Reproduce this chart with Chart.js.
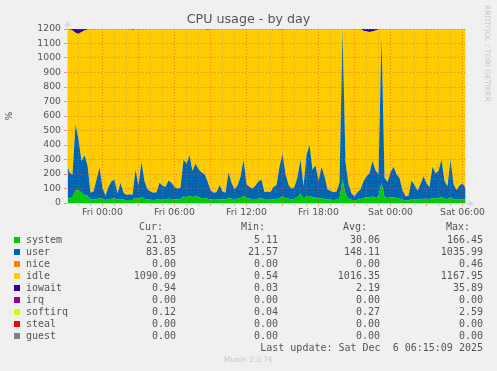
<!DOCTYPE html>
<html>
<head>
<meta charset="utf-8">
<script src="https://cdn.jsdelivr.net/npm/chart.js@4"></script>
<style>
  body { margin: 0; background: #F0F0F0; }
  #wrap { position: relative; width: 497px; height: 371px; overflow: hidden; }
  #chart { position: absolute; left: 0; top: 0; }
  .t { position: absolute; white-space: pre; color: #555; }
  .mono { font-family: "DejaVu Sans Mono", monospace; font-size: 10px; line-height: 12px; }
  .sq { position: absolute; width: 6px; height: 6px; }
</style>
</head>
<body>
<div id="wrap">
  <canvas id="chart" width="497" height="371"></canvas>
</div>
<script>
"use strict"

// Time axis: hours relative to Fri 00:00, one sample every 15 minutes
const startHour = -3;
const stepHours = 0.25;

const system = [35,30,40,85,90,70,55,50,25,22,
  28,35,28,20,28,30,32,22,28,22,
  20,20,20,35,30,40,30,25,22,20,
  22,28,28,26,30,28,26,25,30,45,
  40,50,40,50,40,35,35,30,25,22,
  22,28,25,25,35,30,28,30,35,50,
  35,30,28,28,30,32,22,22,22,25,
  28,35,45,35,30,26,28,40,65,30,
  45,50,40,40,30,35,30,25,22,20,
  22,30,160,60,30,22,18,22,28,35,
  40,40,45,40,45,140,40,35,40,40,
  35,30,25,18,18,28,26,22,26,30,
  30,26,35,30,35,40,30,26,40,26,
  22,26,28,21];

const user = [245,180,155,455,350,220,275,210,45,58,
  132,210,77,30,82,120,128,43,112,48,
  35,40,35,195,90,245,120,70,58,50,
  53,112,92,84,125,112,84,75,75,255,
  230,280,180,220,195,175,165,120,65,48,
  53,97,55,45,175,110,67,90,145,250,
  95,80,72,92,120,128,53,58,53,85,
  97,215,295,165,95,74,82,140,235,85,
  285,350,190,220,120,215,155,70,63,55,
  58,110,1030,220,100,43,27,53,67,115,
  145,165,245,185,155,1010,135,110,170,210,
  165,140,65,27,32,127,99,63,104,155,
  105,84,215,175,185,260,120,89,260,104,
  68,94,107,84];

const idle = [918,987,995,635,725,890,860,937,1128,1118,
  1038,953,1093,1148,1088,1048,1038,1133,1058,1128,
  1143,1138,1140,968,1078,913,1048,1103,1118,1128,
  1123,1058,1078,1088,1043,1058,1088,1098,1093,898,
  928,868,978,928,963,988,998,1044,1108,1128,
  1123,1073,1118,1128,988,1058,1103,1078,1018,898,
  1068,1088,1098,1078,1048,1038,1123,1118,1123,1088,
  1073,946,857,998,1073,1098,1088,1018,898,1083,
  868,798,968,938,1048,948,1013,1103,1113,1123,
  1118,1058,9,918,1068,1133,1153,1123,1103,1038,
  997,975,892,965,997,48,1023,1053,988,948,
  998,1028,1108,1153,1148,1043,1073,1113,1068,1013,
  1063,1088,948,993,978,898,1048,1083,898,1068,
  1108,1078,1063,1094];

const iowait = [2,3,10,25,35,20,10,3,2,2,
  2,2,2,2,2,2,2,2,2,2,
  2,2,5,2,2,2,2,2,2,2,
  2,2,2,2,2,2,2,2,2,2,
  2,2,2,2,2,2,2,6,2,2,
  2,2,2,2,2,2,2,2,2,2,
  2,2,2,2,2,2,2,2,2,2,
  2,4,3,2,2,2,2,2,2,2,
  2,2,2,2,2,2,2,2,2,2,
  2,2,1,2,2,2,2,2,2,12,
  18,20,18,10,3,2,2,2,2,2,
  2,2,2,2,2,2,2,2,2,2,
  2,2,2,2,2,2,2,2,2,2,
  2,2,2,1];

const tickHours = [0, 6, 12, 18, 24, 30];
const tickLabels = ["Fri 00:00", "Fri 06:00", "Fri 12:00", "Fri 18:00", "Sat 00:00", "Sat 06:00"];
const yTicks = [0,100,200,300,400,500,600,700,800,900,1000,1100,1200];

// Legend table
const seriesNames = ["system", "user", "nice", "idle", "iowait", "irq", "softirq", "steal", "guest"];
const seriesColors = ["#00CC00", "#0066B3", "#FF8000", "#FFCC00", "#330099", "#990099", "#CCFF00", "#FF0000", "#808080"];
const curValues = ["21.03", "83.85", "0.00", "1090.09", "0.94", "0.00", "0.12", "0.00", "0.00"];
const minValues = ["5.11", "21.57", "0.00", "0.54", "0.03", "0.00", "0.04", "0.00", "0.00"];
const avgValues = ["30.06", "148.11", "0.00", "1016.35", "2.19", "0.00", "0.27", "0.00", "0.00"];
const maxValues = ["166.45", "1035.99", "0.46", "1167.95", "35.89", "0.00", "2.59", "0.00", "0.00"];

const xMin = -2.958;
const xMax = 30.29;

function points(values) {
    return values.map((v, i) => ({ x: startHour + i * stepHours, y: v }));
}

const majorGrid = "rgba(224, 80, 80, 0.6)";
const minorGrid = "rgba(143, 143, 143, 0.5)";
const axisColor = "#CFD6F8";
const fontColor = "#555";
const tickFont = { family: "DejaVu Sans", size: 9.3 };

// Arrows at the end of the axes, like rrdtool
const arrowPlugin = {
    id: "arrows",
    afterDraw(chart) {
        const c = chart.ctx;
        const a = chart.chartArea;
        c.save();
        c.fillStyle = axisColor;
        c.strokeStyle = axisColor;
        c.lineWidth = 1;
        c.beginPath();
        c.moveTo(a.left + 0.5, a.top);
        c.lineTo(a.left + 0.5, a.top - 4);
        c.moveTo(a.right, a.bottom + 0.5);
        c.lineTo(a.right + 3, a.bottom + 0.5);
        c.stroke();
        c.beginPath();
        c.moveTo(a.left + 0.5, a.top - 8);
        c.lineTo(a.left - 2.5, a.top - 3);
        c.lineTo(a.left + 3.5, a.top - 3);
        c.closePath();
        c.fill();
        c.beginPath();
        c.moveTo(a.right + 8, a.bottom + 0.5);
        c.lineTo(a.right + 3, a.bottom - 2.5);
        c.lineTo(a.right + 3, a.bottom + 3.5);
        c.closePath();
        c.fill();
        c.restore();
    }
};

new Chart(document.getElementById("chart"), {
    type: "line",
    data: {
        datasets: [
            { label: "system", data: points(system), backgroundColor: "#00CC00", fill: "origin" },
            { label: "user", data: points(user), backgroundColor: "#0066B3", fill: "-1" },
            { label: "idle", data: points(idle), backgroundColor: "#FFCC00", fill: "-1" },
            { label: "iowait", data: points(iowait), backgroundColor: "#330099", fill: "-1" }
        ]
    },
    options: {
        responsive: false,
        animation: false,
        devicePixelRatio: 1,
        layout: { padding: { left: 0, top: 29, right: 31, bottom: 148 } },
        elements: {
            point: { radius: 0 },
            line: { borderWidth: 0, tension: 0 }
        },
        plugins: { legend: { display: false }, tooltip: { enabled: false } },
        scales: {
            x: {
                type: "linear",
                min: xMin,
                max: xMax,
                afterBuildTicks(scale) {
                    const t = [];
                    for (let h = -2; h <= 30; h++) t.push({ value: h });
                    scale.ticks = t;
                },
                afterFit(scale) { scale.height = 20; },
                grid: {
                    z: 1,
                    color: c => (c.tick && c.tick.value % 3 === 0) ? majorGrid : minorGrid,
                    tickColor: c => (c.tick && c.tick.value % 3 === 0) ? majorGrid : minorGrid,
                    tickLength: 3
                },
                border: { z: 2, color: axisColor, dash: [1, 2] },
                ticks: {
                    z: 2,
                    autoSkip: false,
                    maxRotation: 0,
                    padding: 1,
                    color: fontColor,
                    font: tickFont,
                    callback: v => {
                        const k = tickHours.indexOf(v);
                        return k >= 0 ? tickLabels[k] : "";
                    }
                }
            },
            y: {
                stacked: true,
                min: 0,
                max: 1200,
                afterBuildTicks(scale) {
                    scale.ticks = yTicks.map(v => ({ value: v }));
                },
                afterFit(scale) { scale.width = 67; },
                grid: { z: 1, color: majorGrid, tickColor: majorGrid, tickLength: 3 },
                border: { z: 2, color: axisColor, dash: [1, 2] },
                ticks: { z: 2, padding: 3, color: fontColor, font: tickFont, callback: v => String(v) },
                title: { display: true, text: "%", color: fontColor, font: tickFont, padding: 4 }
            }
        }
    },
    plugins: [arrowPlugin]
});

// Texts around the chart
const wrap = document.getElementById("wrap");

function addText(text, css, cls) {
    const el = document.createElement("div");
    el.className = "t " + (cls || "");
    el.textContent = text;
    Object.assign(el.style, css);
    wrap.appendChild(el);
    return el;
}

addText("CPU usage - by day", {
    left: "0px", width: "497px", textAlign: "center", top: "11px",
    fontFamily: "DejaVu Sans", fontSize: "12.7px", lineHeight: "16px"
});

addText("RRDTOOL / TOBI OETIKER", {
    left: "483px", top: "5px", fontFamily: "DejaVu Sans", fontSize: "7.5px",
    lineHeight: "9px", color: "#c8c8c8", transformOrigin: "0 0",
    transform: "translate(9px, 0) rotate(90deg)"
});

const headers = ["Cur:", "Min:", "Avg:", "Max:"];
const headerRight = [163, 265, 367, 470];
const colRight = [176, 278, 380, 483];
headers.forEach((h, k) => {
    addText(h, { right: (497 - headerRight[k]) + "px", top: (227 - 6) + "px" }, "mono");
});

const columns = [curValues, minValues, avgValues, maxValues];
seriesNames.forEach((name, i) => {
    const cy = 240 + i * 12;
    const sq = document.createElement("div");
    sq.className = "sq";
    sq.style.left = "14px";
    sq.style.top = (cy - 3) + "px";
    sq.style.background = seriesColors[i];
    wrap.appendChild(sq);
    addText(name, { left: "26px", top: (cy - 6) + "px" }, "mono");
    columns.forEach((col, k) => {
        addText(col[i], { right: (497 - colRight[k]) + "px", top: (cy - 6) + "px" }, "mono");
    });
});

addText("Last update: Sat Dec  6 06:15:09 2025", { right: "14px", top: (348 - 6) + "px" }, "mono");

addText("Munin 2.0.76", {
    left: "0px", width: "497px", textAlign: "center", top: "355px",
    fontFamily: "DejaVu Sans", fontSize: "7.5px", lineHeight: "10px", color: "#c8c8c8"
});
</script>
</body>
</html>
